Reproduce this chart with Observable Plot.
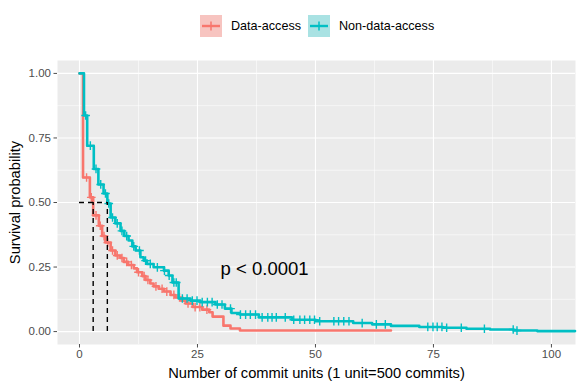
<!DOCTYPE html>
<html><head><meta charset="utf-8">
<script src="https://cdn.jsdelivr.net/npm/d3@7"></script>
<script src="https://cdn.jsdelivr.net/npm/@observablehq/plot@0.6"></script>
<style>
body{margin:0;background:#fff;font-family:"Liberation Sans",Arial,sans-serif;}
#wrap{position:relative;width:581px;height:388px;overflow:hidden;}
#legend{position:relative;height:48px;width:581px;}
.key{position:absolute;top:15px;width:22px;height:22px;}
.lab{position:absolute;top:26px;transform:translateY(-50%);font-size:12.6px;color:#000;white-space:nowrap;line-height:1;}
</style></head><body>
<div id="wrap"><div id="legend"></div><div id="chart"></div></div>
<script>
// Groups and colours
const groups = ["Data-access", "Non-data-access"];
const colors = ["#F8766D", "#00BFC4"];
const keyFills = ["#F7C4C0", "#A9E2E3"];

// Data-access survival step curve (time, survival)
const daTime = [0, 0.75, 2.2, 2.9, 4.1, 4.8, 5.5, 6.6, 7.6, 8.7, 9.4, 10.3, 11.5, 12.2, 13.3, 14.0, 15.0, 15.7, 16.8, 17.9, 19.3, 20.3, 21.5, 22.5, 24.0, 26.0, 27.5, 28.2, 30.5, 32.0, 34.0, 66.0];
const daSurv = [1, 0.597, 0.52, 0.45, 0.41, 0.37, 0.345, 0.314, 0.295, 0.285, 0.27, 0.258, 0.245, 0.23, 0.215, 0.2, 0.186, 0.175, 0.166, 0.155, 0.142, 0.132, 0.12, 0.109, 0.095, 0.085, 0.075, 0.058, 0.023, 0.012, 0.004, 0.004];
const daCensor = [1.5, 2.5, 3.5, 4.4, 5.2, 6.0, 7.0, 8.0, 9.0, 10.0, 11.0, 12.5, 13.7, 14.5, 16.2, 17.5, 18.5, 20.0, 21.2, 23.0, 24.5, 25.5, 27.0];

// Non-data-access survival step curve
const ndaTime = [0, 0.95, 1.63, 3.03, 4.0, 5.1, 5.9, 6.6, 7.6, 8.7, 9.5, 10.4, 11.2, 11.9, 12.9, 13.6, 14.3, 15.7, 17.9, 18.9, 19.7, 21.0, 23.5, 25.6, 28.8, 30.8, 32.2, 34, 38, 45, 50, 58, 62, 66, 72, 77, 82, 87, 92, 97, 105];
const ndaSurv = [1, 0.837, 0.72, 0.63, 0.57, 0.535, 0.496, 0.442, 0.419, 0.39, 0.37, 0.353, 0.33, 0.314, 0.288, 0.275, 0.262, 0.249, 0.236, 0.217, 0.19, 0.128, 0.12, 0.114, 0.105, 0.089, 0.072, 0.066, 0.055, 0.046, 0.040, 0.033, 0.028, 0.022, 0.018, 0.015, 0.011, 0.008, 0.004, 0.002, 0.002];
const ndaCensor = [1.3, 2.3, 3.5, 4.5, 5.5, 6.2, 7.0, 8.0, 9.0, 10.0, 11.5, 12.7, 14.0, 15.0, 16.5, 18.0, 19.0, 20.0, 20.5,
  21.8, 22.8, 23.9, 24.9, 26.0, 27.1, 28.1, 29.2, 30.2, 32.0, 34.1, 35.2, 36.2, 37.3, 38.7, 39.9, 40.8, 41.7, 43.6, 45.4, 46.7, 47.7, 48.8, 49.8, 50.9, 53.9, 54.9, 56.0, 57.1, 59.9, 62.9, 64.8, 73.8, 74.9, 75.8, 76.8, 77.8, 80.9, 85.8, 91.9, 92.7];

// Medians and annotation
const medianTimes = [2.9, 5.9];
const medianSurv = 0.5;
const pText = "p < 0.0001";
const pPos = [29.9, 0.243];

// Axes
const xTicks = [0, 25, 50, 75, 100];
const xMinor = [12.5, 37.5, 62.5, 87.5];
const yTicks = [0, 0.25, 0.5, 0.75, 1];
const yMinor = [0.125, 0.375, 0.625, 0.875];
const xTitle = "Number of commit units (1 unit=500 commits)";
const yTitle = "Survival probability";

function rows(times, survs, g) { return times.map((t, i) => ({time: t, surv: survs[i], group: g})); }
function survAt(times, survs, t) { let s = survs[0]; for (let i = 0; i < times.length; i++) { if (times[i] <= t) s = survs[i]; } return s; }
function censorRows(c, times, survs, g) { return c.map(t => ({time: t, surv: survAt(times, survs, t), group: g})); }

const daRows = rows(daTime, daSurv, groups[0]);
const ndaRows = rows(ndaTime, ndaSurv, groups[1]);
const daC = censorRows(daCensor, daTime, daSurv, groups[0]);
const ndaC = censorRows(ndaCensor, ndaTime, ndaSurv, groups[1]);

// Legend
const leg = document.getElementById("legend");
const keyX = [200, 308], labX = [231, 339];
groups.forEach((g, i) => {
  const k = document.createElementNS("http://www.w3.org/2000/svg", "svg");
  k.setAttribute("class", "key"); k.setAttribute("width", 22); k.setAttribute("height", 22);
  k.style.left = keyX[i] + "px";
  k.innerHTML = `<rect x="0" y="0" width="22" height="22" fill="${keyFills[i]}"/>` +
    `<line x1="2" x2="20" y1="11" y2="11" stroke="${colors[i]}" stroke-width="2.4"/>` +
    `<line x1="11" x2="11" y1="6.5" y2="15.5" stroke="${colors[i]}" stroke-width="1.5"/>`;
  leg.appendChild(k);
  const t = document.createElement("div");
  t.className = "lab"; t.style.left = labX[i] + "px"; t.textContent = g;
  leg.appendChild(t);
});

const chart = Plot.plot({
  width: 581, height: 340,
  marginTop: 12, marginBottom: 44, marginLeft: 57, marginRight: 6,
  style: {fontFamily: "Liberation Sans, Arial, sans-serif", background: "transparent", overflow: "visible"},
  x: {domain: [-4.66, 105.1]},
  y: {domain: [-0.05, 1.05]},
  marks: [
    Plot.frame({fill: "#EBEBEB", stroke: null}),
    Plot.gridX(xMinor, {stroke: "#fff", strokeOpacity: 1, strokeWidth: 0.55}),
    Plot.gridY(yMinor, {stroke: "#fff", strokeOpacity: 1, strokeWidth: 0.55}),
    Plot.gridX(xTicks, {stroke: "#fff", strokeOpacity: 1, strokeWidth: 1.1}),
    Plot.gridY(yTicks, {stroke: "#fff", strokeOpacity: 1, strokeWidth: 1.1}),
    Plot.axisX(xTicks, {tickSize: 3.5, tickPadding: 2, fontSize: 11.5, color: "#4D4D4D", label: null}),
    Plot.axisY(yTicks, {tickSize: 3.5, tickPadding: 3, fontSize: 11.5, color: "#4D4D4D", tickFormat: d3.format(".2f"), label: null}),
    Plot.text([xTitle], {frameAnchor: "bottom", dy: 29, lineAnchor: "middle", fontSize: 14.7, fill: "#000"}),
    Plot.text([yTitle], {frameAnchor: "left", dx: -42, rotate: -90, lineAnchor: "middle", textAnchor: "middle", fontSize: 14.7, fill: "#000"}),
    Plot.line(daRows, {x: "time", y: "surv", stroke: colors[0], strokeWidth: 2.6, curve: "step-after"}),
    Plot.dot(daC, {x: "time", y: "surv", symbol: "plus", r: 2.9, stroke: colors[0], strokeWidth: 1.4}),
    Plot.line(ndaRows, {x: "time", y: "surv", stroke: colors[1], strokeWidth: 2.6, curve: "step-after"}),
    Plot.dot(ndaC, {x: "time", y: "surv", symbol: "plus", r: 2.9, stroke: colors[1], strokeWidth: 1.4}),
    Plot.ruleY([{y: medianSurv, x1: 0, x2: d3.max(medianTimes)}], {y: "y", x1: "x1", x2: "x2", stroke: "#000", strokeWidth: 1.4, strokeDasharray: "5,4"}),
    Plot.ruleX(medianTimes, {x: d => d, y1: 0, y2: medianSurv, stroke: "#000", strokeWidth: 1.4, strokeDasharray: "5,4"}),
    Plot.text([pText], {x: () => pPos[0], y: () => pPos[1], textAnchor: "start", lineAnchor: "middle", fontSize: 18.5, fill: "#000"})
  ]
});
document.getElementById("chart").appendChild(chart);
</script>
</body></html>
